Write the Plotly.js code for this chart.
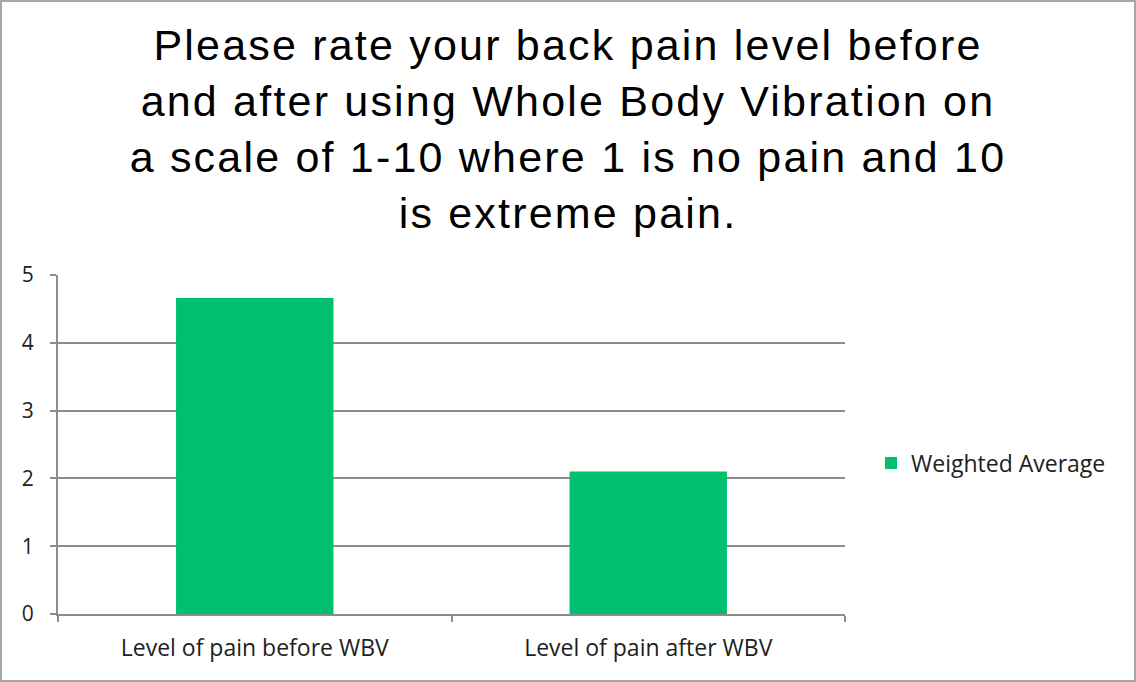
<!DOCTYPE html>
<html>
<head>
<meta charset="utf-8">
<script src="https://cdn.plot.ly/plotly-3.0.1.min.js"></script>
<style>
  html, body { margin: 0; padding: 0; background: #fff; }
  #wrap { position: relative; width: 1136px; height: 682px; }
  #chart { width: 1136px; height: 682px; }
  #frame { position: absolute; left: 0; top: 0; width: 1136px; height: 682px; box-sizing: border-box;
           border: 2px solid #a6a6a6; pointer-events: none; z-index: 10; }
  #chart .gtitle { letter-spacing: 2.2px; }
</style>
</head>
<body>
<div id="wrap"><div id="chart"></div><div id="frame"></div></div>
<script>
const categories = ["Level of pain before WBV", "Level of pain after WBV"];
const weightedAverage = [4.66, 2.10];
const seriesName = "Weighted Average";
const yTicks = [0, 1, 2, 3, 4, 5];
const titleText = "Please rate your back pain level before<br>and after using Whole Body Vibration on<br>a scale of 1-10 where 1 is no pain and 10<br>is extreme pain.";

const gridColor = "#8c8c8c";
const labelFont = { family: "'Open Sans', Lato, sans-serif", size: 23, color: "#1e1e1e" };
const tickFont = { family: "'Open Sans', Lato, sans-serif", size: 21, color: "#1e1e1e" };

const trace = {
  type: "bar",
  x: categories,
  y: weightedAverage,
  name: seriesName,
  marker: { color: "#00bf6f" },
  width: 0.4,
  showlegend: true,
  hoverinfo: "x+y"
};

const layout = {
  width: 1136,
  height: 682,
  paper_bgcolor: "#ffffff",
  plot_bgcolor: "#ffffff",
  margin: { l: 58, r: 291, t: 275, b: 68, pad: 0 },
  title: {
    text: titleText,
    font: { family: "'Liberation Sans', Arial, sans-serif", size: 43, color: "#000000" },
    x: 0.5, xref: "container", xanchor: "center",
    y: 1 - 60 / 682, yref: "container", yanchor: "top"
  },
  xaxis: {
    type: "category",
    showline: true, linecolor: gridColor, linewidth: 2,
    ticks: "outside", tickson: "boundaries", ticklen: 6, tickcolor: gridColor, tickwidth: 2,
    showgrid: false, zeroline: false,
    tickfont: labelFont,
    ticklabelstandoff: 12,
    fixedrange: true
  },
  yaxis: {
    range: [0, 5],
    tickvals: yTicks,
    ticktext: yTicks.map(String),
    showline: true, linecolor: gridColor, linewidth: 2,
    ticks: "outside", ticklen: 6, tickcolor: gridColor, tickwidth: 2,
    showgrid: true, gridcolor: gridColor, gridwidth: 2,
    zeroline: false,
    tickfont: tickFont,
    ticklabelstandoff: 12,
    fixedrange: true
  },
  legend: {
    x: (871 - 58) / 787, xanchor: "left",
    y: (614 - 463) / 339, yanchor: "middle",
    font: labelFont,
    bgcolor: "rgba(0,0,0,0)"
  },
  showlegend: true,
  bargap: 0.6
};

Plotly.newPlot("chart", [trace], layout, { displayModeBar: false, responsive: false });
</script>
</body>
</html>
